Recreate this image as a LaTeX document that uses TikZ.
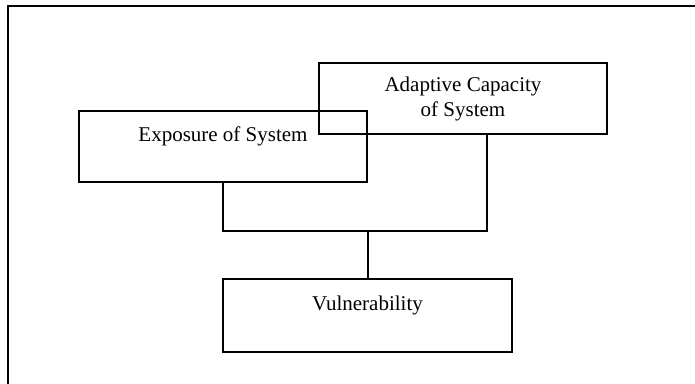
\documentclass[tikz,border=0pt]{standalone}
\usepackage{fontspec}
\setmainfont{Liberation Serif}
\begin{document}
\begin{tikzpicture}[x=1pt,y=-1pt,
  boxnode/.style={draw=black, line width=2pt, rectangle, minimum width=288pt, minimum height=71pt,
    inner sep=0pt, align=center, font=\fontsize{21}{25}\selectfont},
  conn/.style={draw=black, line width=2pt},
  framestyle/.style={draw=black, line width=2.2pt}]
\useasboundingbox (0,0) rectangle (695,383);
\draw[framestyle] (696,6) -- (8,6) -- (8,384);
\node[boxnode] (a) at (463,98.5) {Adaptive Capacity\\of System};
\node[boxnode] (e) at (223,146.5) {Exposure of System\\\mbox{}};
\node[boxnode, minimum width=289pt, minimum height=73pt] (v) at (367.5,315.5) {Vulnerability\\\mbox{}};
\coordinate (jl) at (223,231);
\coordinate (jr) at (487,231);
\coordinate (jm) at (367.5,231);
\draw[conn] (e.south) -- (jl) -- (jr) -- (a.south -| jr);
\draw[conn] (jm) -- (v.north);
\end{tikzpicture}
\end{document}
